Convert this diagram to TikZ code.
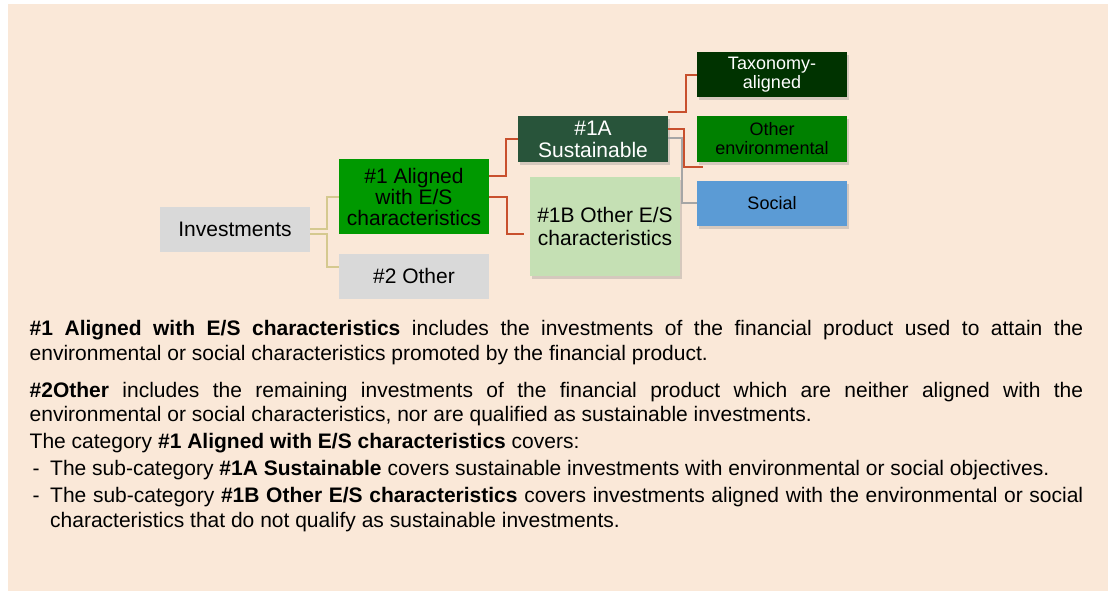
\documentclass[tikz,border=0pt]{standalone}
\usepackage{fontspec}
\setmainfont{Liberation Sans}
\usetikzlibrary{calc,shadows}
\definecolor{peach}{HTML}{FAE8D8}
\definecolor{boxgray}{HTML}{D9D9D9}
\definecolor{esgreen}{HTML}{009900}
\definecolor{sustgreen}{HTML}{28543A}
\definecolor{lightgreen}{HTML}{C5E0B4}
\definecolor{taxgreen}{HTML}{003300}
\definecolor{envgreen}{HTML}{008000}
\definecolor{socialblue}{HTML}{5B9BD5}
\definecolor{redc}{HTML}{C8502D}
\definecolor{tanc}{HTML}{D5C98F}
\definecolor{grayc}{HTML}{A6A6A6}
\begin{document}
\begin{tikzpicture}[x=1pt,y=-1pt,
    box/.style={minimum width=150pt,minimum height=45pt,inner sep=0pt,align=center,font=\fontsize{21}{21}\selectfont},
    smallbox/.style={box,font=\fontsize{18}{19}\selectfont},
    boxshadow/.style={drop shadow={shadow xshift=2pt,shadow yshift=-3pt,opacity=0.3}},
    tanline/.style={draw=tanc,line width=2pt},
    redline/.style={draw=redc,line width=2pt},
    grayline/.style={draw=grayc,line width=1.5pt}]
    \useasboundingbox (0,0) rectangle (1108,591);
    \fill[peach] (8,4) rectangle (1108,591);
    % tree of investments
    \node (inv) at (235,229) [box,fill=boxgray] {Investments};
    \node (al1) at (414,196.5) [box,fill=esgreen,minimum height=75pt] {\#1 Aligned\\with E/S\\characteristics};
    \node (oth2) at (414,276) [box,fill=boxgray] {\#2 Other};
    \node (sust) at (593,139) [box,fill=sustgreen,text=white,boxshadow,font=\fontsize{21}{22}\selectfont] {\#1A\\Sustainable};
    \node (oth1b) at (605,226) [box,fill=lightgreen,boxshadow,minimum height=99pt,font=\fontsize{21}{23}\selectfont] {\#1B Other E/S\\characteristics};
    \node (tax) at (772,75) [smallbox,fill=taxgreen,text=white,boxshadow] {Taxonomy-\\aligned};
    \node (othenv) at (772,139) [smallbox,fill=envgreen,boxshadow] {Other\\environmental};
    \node (social) at (772,203) [smallbox,fill=socialblue,boxshadow] {Social};
    % connectors
    \draw[tanline] (inv.east) -- ++(17,0) |- (al1.west);
    \draw[tanline] ($(inv.east)+(0,5)$) -- ++(17,0) |- ($(oth2.west)+(0,-9)$);
    \draw[redline] ($(al1.east)+(0,-21)$) -- ++(17,0) |- (sust.west);
    \draw[redline,shorten >=6pt] ($(al1.east)+(0,0.5)$) -- ++(18,0) |- ($(oth1b.west)+(0,8)$);
    \draw[redline] ($(sust.east)+(0,-27)$) -- ++(18,0) |- (tax.west);
    \draw[redline] ($(sust.east)+(0,-10)$) -- ++(16,0) |- ($(othenv.south west)+(6,5)$);
    \draw[grayline] ($(sust.east)+(0,-1)$) -- ++(14,0) |- (social.west);
    % explanatory text
    \node (notes) at (29.5,320.5) [anchor=north west,inner sep=0pt,text width=1053.5pt,align=justify,font=\fontsize{21}{24.4}\selectfont] {%
        \hyphenpenalty=10000\exhyphenpenalty=10000\parindent=0pt
        \textbf{\#1 Aligned with E/S characteristics} includes the investments of the financial product used to attain the environmental or social characteristics promoted by the financial product.\par\vspace{12.6pt}
        \textbf{\#2Other} includes the remaining investments of the financial product which are neither aligned with the environmental or social characteristics, nor are qualified as sustainable investments.\par\vspace{2.6pt}
        The category \textbf{\#1 Aligned with E/S characteristics} covers:\par\vspace{2.6pt}
        \hangindent=20.5pt\hangafter=1\makebox[20.5pt][l]{\hspace{3pt}-}The sub-category \textbf{\#1A Sustainable} covers sustainable investments with environmental or social objectives.\par\vspace{2.6pt}
        \hangindent=20.5pt\hangafter=1\makebox[20.5pt][l]{\hspace{3pt}-}The sub-category \textbf{\#1B Other E/S characteristics} covers investments aligned with the environmental or social characteristics that do not qualify as sustainable investments.\par};
\end{tikzpicture}
\end{document}
